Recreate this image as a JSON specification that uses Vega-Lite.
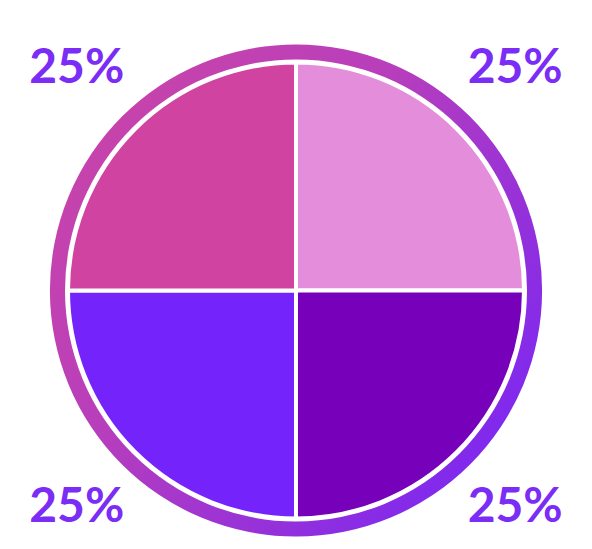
{
  "$schema": "https://vega.github.io/schema/vega-lite/v6.json",
  "width": 592,
  "height": 549,
  "autosize": {"type": "fit", "contains": "padding"},
  "padding": {"top": 32, "bottom": 0, "left": 0, "right": 0},
  "background": "white",
  "config": {"view": {"stroke": null}},
  "data": {
    "values": [
      {"slice": "A", "share": 25, "label": "25%"},
      {"slice": "B", "share": 25, "label": "25%"},
      {"slice": "C", "share": 25, "label": "25%"},
      {"slice": "D", "share": 25, "label": "25%"}
    ]
  },
  "layer": [
    {
      "data": {"values": [{"part": "ring"}]},
      "mark": {
        "type": "arc",
        "theta": 0,
        "theta2": 6.2832,
        "radius": 246,
        "radius2": 231,
        "color": {
          "gradient": "linear",
          "x1": 0, "y1": 0.1, "x2": 1, "y2": 0.9,
          "stops": [
            {"offset": 0, "color": "#CC45A6"},
            {"offset": 0.4, "color": "#B73EBC"},
            {"offset": 1, "color": "#7424F8"}
          ]
        }
      },
      "encoding": {}
    },
    {
      "mark": {"type": "arc", "radius": 228, "stroke": "white", "strokeWidth": 4},
      "encoding": {
        "theta": {"field": "share", "type": "quantitative", "stack": true},
        "color": {
          "field": "slice",
          "type": "nominal",
          "scale": {"domain": ["A", "B", "C", "D"], "range": ["#E48EDB", "#7700BB", "#7424FB", "#D043A0"]},
          "legend": null
        }
      }
    },
    {
      "mark": {"type": "text", "radius": 310, "font": "Lato", "fontWeight": "bold", "fontSize": 48, "color": "#7B2CF5", "align": "center", "baseline": "middle", "dy": -2},
      "encoding": {
        "theta": {"field": "share", "type": "quantitative", "stack": true},
        "detail": {"field": "slice", "type": "nominal"},
        "text": {"field": "label", "type": "nominal"}
      }
    }
  ]
}
